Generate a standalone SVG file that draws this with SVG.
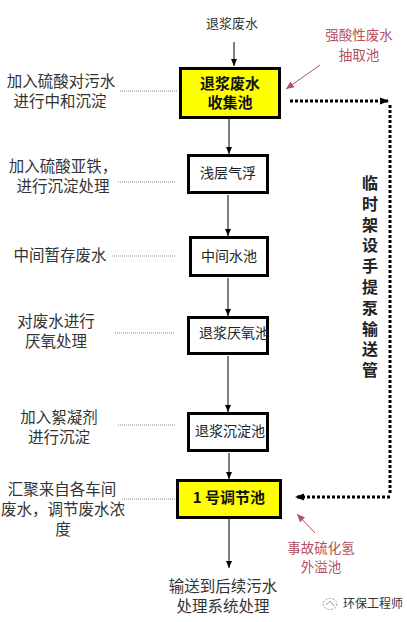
<svg xmlns="http://www.w3.org/2000/svg" width="407" height="622" viewBox="0 0 407 622">
<defs>
<style>
.t{font-family:"Noto Sans CJK SC","Liberation Sans",sans-serif;fill:#333;}
.lbl{font-size:15.5px;text-anchor:middle;}
.bx{fill:#fff;stroke:#000;stroke-width:3;}
.yb{fill:#ffff00;stroke:#000;stroke-width:3;}
.bt{font-size:14px;text-anchor:middle;fill:#222;}
.bb{font-size:15px;font-weight:bold;text-anchor:middle;fill:#111;}
.red{font-size:13.5px;text-anchor:middle;fill:#b4505f;}
.ln{stroke:#000;stroke-width:1;fill:none;}
.dl{stroke:#888;stroke-width:1;stroke-dasharray:1,1;fill:none;}
.td{stroke:#000;stroke-width:3;stroke-dasharray:3,2;fill:none;}
.ra{stroke:#b4505f;stroke-width:1;fill:none;}
.vt{font-size:16px;font-weight:bold;fill:#222;writing-mode:vertical-rl;text-orientation:upright;letter-spacing:4.8px;}
</style>
<marker id="ah" markerWidth="8" markerHeight="8" refX="7" refY="4" orient="auto" markerUnits="userSpaceOnUse"><path d="M0,1 L7,4 L0,7 Z" fill="#000"/></marker>
<marker id="ahb" markerWidth="10" markerHeight="10" refX="9" refY="5" orient="auto" markerUnits="userSpaceOnUse"><path d="M0,1.5 L9,5 L0,8.5 Z" fill="#000"/></marker>
<marker id="ahr" markerWidth="9" markerHeight="9" refX="8" refY="4.5" orient="auto" markerUnits="userSpaceOnUse"><path d="M0,1 L8,4.5 L0,8 Z" fill="#b4505f"/></marker>
</defs>
<rect width="407" height="622" fill="#fff"/>

<g id="connectors">
<line class="ln" x1="234" y1="42" x2="234" y2="66" marker-end="url(#ah)"/>
<line class="ln" x1="229" y1="119" x2="229" y2="154" marker-end="url(#ah)"/>
<line class="ln" x1="228" y1="195" x2="228" y2="236" marker-end="url(#ah)"/>
<line class="ln" x1="228" y1="278" x2="228" y2="316" marker-end="url(#ah)"/>
<line class="ln" x1="228" y1="356" x2="228" y2="412" marker-end="url(#ah)"/>
<line class="ln" x1="229" y1="453" x2="229" y2="479" marker-end="url(#ah)"/>
<line class="ln" x1="229" y1="519" x2="229" y2="568" marker-end="url(#ah)"/>
<line class="dl" x1="120" y1="91" x2="178" y2="91"/>
<line class="dl" x1="118" y1="182" x2="176" y2="182"/>
<line class="dl" x1="112" y1="256" x2="176" y2="256"/>
<line class="dl" x1="115" y1="333" x2="175" y2="333"/>
<line class="dl" x1="118" y1="425" x2="176" y2="425"/>
<line class="dl" x1="122" y1="499" x2="180" y2="499"/>
<line class="td" x1="290" y1="101" x2="389" y2="101" marker-end="url(#ahb)"/>
<line class="td" x1="390" y1="105" x2="390" y2="494"/>
<line class="td" x1="390" y1="497" x2="295" y2="497" marker-end="url(#ahb)"/>
<line class="ra" x1="320" y1="65" x2="286" y2="89" marker-end="url(#ahr)"/>
<line class="ra" x1="315" y1="533" x2="297" y2="514" marker-end="url(#ahr)"/>
</g>

<text class="t" x="232" y="28" font-size="13" text-anchor="middle">退浆废水</text>

<g id="n1">
<rect class="yb" x="180.5" y="68.5" width="99" height="49"/>
<text class="t bb" x="230" y="89">退浆废水</text>
<text class="t bb" x="230" y="108">收集池</text>
</g>
<g id="n2">
<rect class="bx" x="188.5" y="155.5" width="79" height="37"/>
<text class="t bt" x="228" y="178">浅层气浮</text>
</g>
<g id="n3">
<rect class="bx" x="190.5" y="237.5" width="77" height="38"/>
<text class="t bt" x="229" y="261">中间水池</text>
</g>
<g id="n4">
<rect class="bx" x="188.5" y="317.5" width="79" height="36"/>
<text class="t bt" x="234" y="338">退浆厌氧池</text>
</g>
<g id="n5">
<rect class="bx" x="188.5" y="413.5" width="79" height="37"/>
<text class="t bt" x="230" y="436">退浆沉淀池</text>
</g>
<g id="n6">
<rect class="yb" x="177.5" y="480.5" width="103" height="37"/>
<text class="t bb" x="229" y="503">1 号调节池</text>
</g>

<g id="labels">
<text class="t lbl" x="61" y="87">加入硫酸对污水</text>
<text class="t lbl" x="60" y="107">进行中和沉淀</text>
<text class="t lbl" x="63" y="172">加入硫酸亚铁，</text>
<text class="t lbl" x="63" y="192">进行沉淀处理</text>
<text class="t lbl" x="60" y="261">中间暂存废水</text>
<text class="t lbl" x="56" y="327">对废水进行</text>
<text class="t lbl" x="56" y="347">厌氧处理</text>
<text class="t lbl" x="59" y="423">加入絮凝剂</text>
<text class="t lbl" x="59" y="443">进行沉淀</text>
<text class="t lbl" x="62" y="495">汇聚来自各车间</text>
<text class="t lbl" x="63" y="515" font-size="15">废水，调节废水浓</text>
<text class="t lbl" x="63" y="535">度</text>
<text class="t lbl" x="223" y="592">输送到后续污水</text>
<text class="t lbl" x="223" y="612">处理系统处理</text>
<text class="t red" x="359" y="40">强酸性废水</text>
<text class="t red" x="359" y="60">抽取池</text>
<text class="t red" x="321" y="553">事故硫化氢</text>
<text class="t red" x="321" y="572">外溢池</text>
</g>

<g id="vlabel">
<text class="t vt" x="370" y="175">临时架设手提泵输送管</text>
</g>

<g id="watermark">
<ellipse cx="330" cy="604" rx="7" ry="5.5" fill="none" stroke="#999" stroke-width="1" stroke-dasharray="2,1.5"/>
<path d="M326,605 L330,601 L334,606" fill="none" stroke="#999" stroke-width="1"/>
<text class="t" x="343" y="608" font-size="12" fill="#666">环保工程师</text>
</g>
</svg>
